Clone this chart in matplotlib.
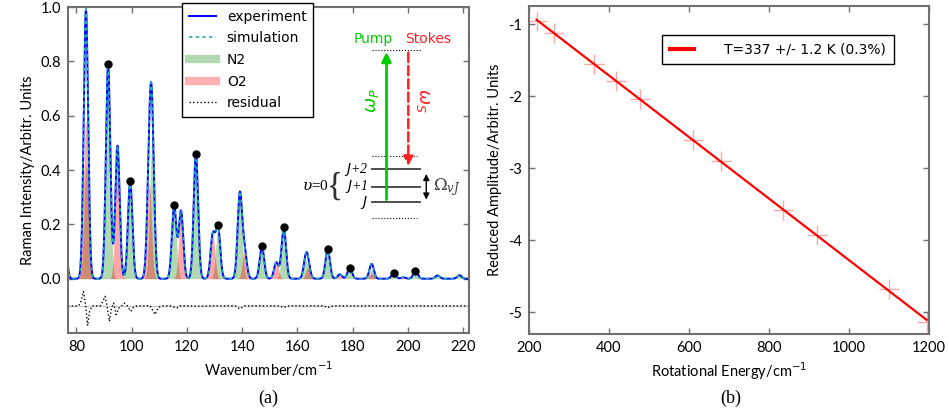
import numpy as np
import matplotlib
matplotlib.use('Agg')
import matplotlib.pyplot as plt
from matplotlib.lines import Line2D

# N2 rotational Raman lines (Stokes), position in cm-1 and peak height
n2_pos = [75.6, 83.6, 91.5, 99.5, 107.4, 115.4, 123.3, 131.3, 139.2, 147.2, 155.1,
          163.1, 171.0, 179.0, 186.9, 194.9, 202.8, 210.8, 218.7]
n2_amp = [0.20, 0.42, 0.79, 0.36, 0.52, 0.27, 0.46, 0.19, 0.31, 0.12, 0.19,
          0.07, 0.11, 0.04, 0.035, 0.02, 0.03, 0.012, 0.013]

# O2 lines (odd N only)
o2_pos = [83.4, 94.9, 106.4, 117.9, 129.4, 140.9, 152.4, 163.9, 175.4, 186.9, 198.4]
o2_amp = [0.58, 0.49, 0.35, 0.25, 0.16, 0.10, 0.06, 0.04, 0.016, 0.02, 0.005]
line_sigma = 0.8

# lines picked for the Boltzmann plot (black dots)
fit_pos = [91.5, 99.5, 115.4, 123.3, 131.3, 147.2, 155.1, 171.0, 179.0, 194.9, 202.8]

# residual (experiment - simulation), shifted down by 0.1
res_w = [77.0, 80.8, 81.7, 82.6, 83.4, 84.1, 84.8, 85.8, 87.5, 88.7, 89.6, 90.4, 91.1,
         92.0, 92.7, 93.5, 94.4, 95.4, 96.4, 97.3, 98.3, 99.7, 100.7, 102.1, 104.3,
         106.7, 108.5, 109.7, 111.5, 113.9, 116.4, 117.5, 120.0, 125.0, 130.0, 135.0,
         137.5, 139.2, 141.0, 145.0, 150.0, 153.5, 155.1, 157.0, 165.0, 169.5, 171.0,
         173.0, 185.0, 200.0, 222.0]
res_v = [-0.100, -0.100, -0.083, -0.047, -0.100, -0.173, -0.120, -0.100, -0.100, -0.100,
         -0.083, -0.065, -0.100, -0.157, -0.110, -0.090, -0.132, -0.108, -0.100, -0.090,
         -0.098, -0.120, -0.105, -0.100, -0.100, -0.099, -0.132, -0.105, -0.100, -0.100,
         -0.108, -0.100, -0.100, -0.101, -0.100, -0.100, -0.100, -0.111, -0.100, -0.100,
         -0.100, -0.100, -0.106, -0.100, -0.100, -0.100, -0.106, -0.100, -0.100, -0.100,
         -0.100]

# Boltzmann plot
rot_energy = [219, 263, 362, 418, 478, 610, 681, 836, 920, 1099, 1194]
reduced_amp = [-0.955, -1.13, -1.556, -1.79, -2.04, -2.61, -2.90, -3.58, -3.92, -4.68, -5.13]
temp_K = 337
c2 = 1.4388  # hc/k in cm K

plt.rcParams['font.family'] = ['Lato', 'DejaVu Sans']
plt.rcParams['mathtext.fontset'] = 'dejavusans'
plt.rcParams['axes.unicode_minus'] = False


def spectrum(w, pos, amp):
    out = np.zeros_like(w)
    for p, a in zip(pos, amp):
        out += a * np.exp(-(w - p) ** 2 / (2 * line_sigma ** 2))
    return out


def style_axes(ax):
    for s in ax.spines.values():
        s.set_color('#707070')
        s.set_linewidth(1.5)
    ax.tick_params(direction='in', top=True, right=True, color='#707070',
                   length=4, width=1, labelsize=10.5, pad=5)


fig = plt.figure(figsize=(9.49, 4.12), dpi=100)
ax1 = fig.add_axes([0.0717, 0.1917, 0.422, 0.791])
ax2 = fig.add_axes([0.5574, 0.1893, 0.4215, 0.796])

w = np.linspace(77, 222, 4000)
n2 = spectrum(w, n2_pos, n2_amp)
o2 = spectrum(w, o2_pos, o2_amp)
total = n2 + o2

ax1.fill_between(w, 0, n2, color='g', alpha=0.3, lw=0)
ax1.fill_between(w, 0, o2, color='r', alpha=0.35, lw=0)
ax1.plot(w, total, color='b', lw=1.4)
ax1.plot(w, total, color='#20b2b2', lw=1.2, ls='--', dashes=(2, 2))
ax1.axhline(-0.1, color='#c8c8c8', lw=1)
ax1.plot(res_w, res_v, color='k', lw=1, ls=':')

fp = np.array(fit_pos)
ax1.plot(fp, spectrum(fp, n2_pos, n2_amp) + spectrum(fp, o2_pos, o2_amp), 'o',
         color='k', ms=5, zorder=5)

ax1.set_xlim(77, 222)
ax1.set_ylim(-0.2, 1.0)
ax1.set_yticks([0.0, 0.2, 0.4, 0.6, 0.8, 1.0])
ax1.set_xticks(range(80, 221, 20))
style_axes(ax1)
ax1.set_xlabel('Wavenumber/cm$^{-1}$', fontsize=10.5)
ax1.set_ylabel('Raman Intensity/Arbitr. Units', fontsize=10.5)

handles = [Line2D([], [], color='b', lw=1.4),
           Line2D([], [], color='#20b2b2', lw=1.2, ls='--', dashes=(2, 2)),
           Line2D([], [], color='g', lw=6, alpha=0.3),
           Line2D([], [], color='r', lw=6, alpha=0.3),
           Line2D([], [], color='k', lw=1, ls=':')]
labels = ['experiment', 'simulation', 'N2', 'O2', 'residual']
leg = ax1.legend(handles, labels, loc='upper left', bbox_to_anchor=(0.268, 1.035),
                 fancybox=False, framealpha=1, edgecolor='k', borderpad=0.5,
                 handlelength=1.9, labelspacing=0.55, prop={'family': 'DejaVu Sans', 'size': 10})
leg.get_frame().set_linewidth(1)
leg.set_zorder(10)

# energy level sketch
lev_x0, lev_x1 = 187.2, 204.5
ax1.plot([186.9, 204.9], [0.842, 0.842], color='k', lw=0.8, ls=':')
ax1.plot([187.2, 203.5], [0.453, 0.453], color='k', lw=0.8, ls=':')
ax1.plot([187.2, 203.5], [0.223, 0.223], color='k', lw=0.8, ls=':')
for lev, lab in zip([0.403, 0.339, 0.281], ['$J$+2', '$J$+1', '$J$']):
    ax1.plot([lev_x0, lev_x1], [lev, lev], color='#404040', lw=1.3)
    ax1.text(185.6, lev, lab, ha='right', va='center', fontsize=10,
             family='Liberation Serif', style='italic')
ax1.annotate('', xy=(192.3, 0.845), xytext=(192.3, 0.281),
             arrowprops=dict(arrowstyle='-|>', color='#00cc00', lw=2, mutation_scale=14))
ax1.annotate('', xy=(200.2, 0.405), xytext=(200.2, 0.842),
             arrowprops=dict(arrowstyle='-|>', color='#ff2020', lw=1.8, ls='--', mutation_scale=14))
ax1.annotate('', xy=(206.7, 0.396), xytext=(206.7, 0.281),
             arrowprops=dict(arrowstyle='<|-|>', color='k', lw=1, mutation_scale=9))
ax1.text(209.0, 0.339, r'$\Omega_{vJ}$', ha='left', va='center', fontsize=12,
         family='Liberation Serif', math_fontfamily='dejavuserif', color='#404040')
ax1.text(187.5, 0.884, 'Pump', ha='center', va='center', color='#00cc00', fontsize=10,
         family='DejaVu Sans')
ax1.text(207.2, 0.884, 'Stokes', ha='center', va='center', color='#ff2020', fontsize=10,
         family='DejaVu Sans')
ax1.text(187.2, 0.655, r'$\omega_P$', ha='center', va='center', rotation=90,
         color='#00cc00', fontsize=13)
ax1.text(205.4, 0.655, r'$\omega_S$', ha='center', va='center', rotation=-90,
         color='#ff2020', fontsize=13)
ax1.text(171.5, 0.34, r'$\upsilon$=0', ha='right', va='center', fontsize=11,
         family='Liberation Serif', math_fontfamily='dejavuserif')
ax1.text(173.8, 0.34, '{', ha='center', va='center', fontsize=24,
         family='Liberation Serif', color='#303030')

# Boltzmann plot: slope fixed by the fitted temperature
E = np.array(rot_energy)
A = np.array(reduced_amp)
slope = -c2 / temp_K
intercept = np.mean(A - slope * E)
ax2.plot(E, A, '+', color='r', alpha=0.35, ms=14, mew=1)
ax2.plot(E, intercept + slope * E, color='r', lw=1.6,
         label='T=%d +/- 1.2 K (0.3%%)' % temp_K)
ax2.set_xlim(200, 1200)
ax2.set_ylim(-5.3, -0.75)
ax2.set_yticks([-1, -2, -3, -4, -5])
style_axes(ax2)
ax2.set_xlabel('Rotational Energy/cm$^{-1}$', fontsize=10.5)
ax2.set_ylabel('Reduced Amplitude/Arbitr. Units', fontsize=10.5)
leg2 = ax2.legend(loc='upper right', bbox_to_anchor=(0.929, 0.933), fancybox=False,
                  framealpha=1, edgecolor='k', handlelength=1.7, handletextpad=2.2,
                  borderpad=0.55, prop={'family': 'DejaVu Sans', 'size': 10})
leg2.get_frame().set_linewidth(1)
for h in leg2.get_lines():
    h.set_linewidth(3)

fig.text(0.2825, 0.034, '(a)', ha='center', va='center', fontsize=13, family='Liberation Serif')
fig.text(0.770, 0.034, '(b)', ha='center', va='center', fontsize=13, family='Liberation Serif')

fig.savefig('out.png', dpi=100)
